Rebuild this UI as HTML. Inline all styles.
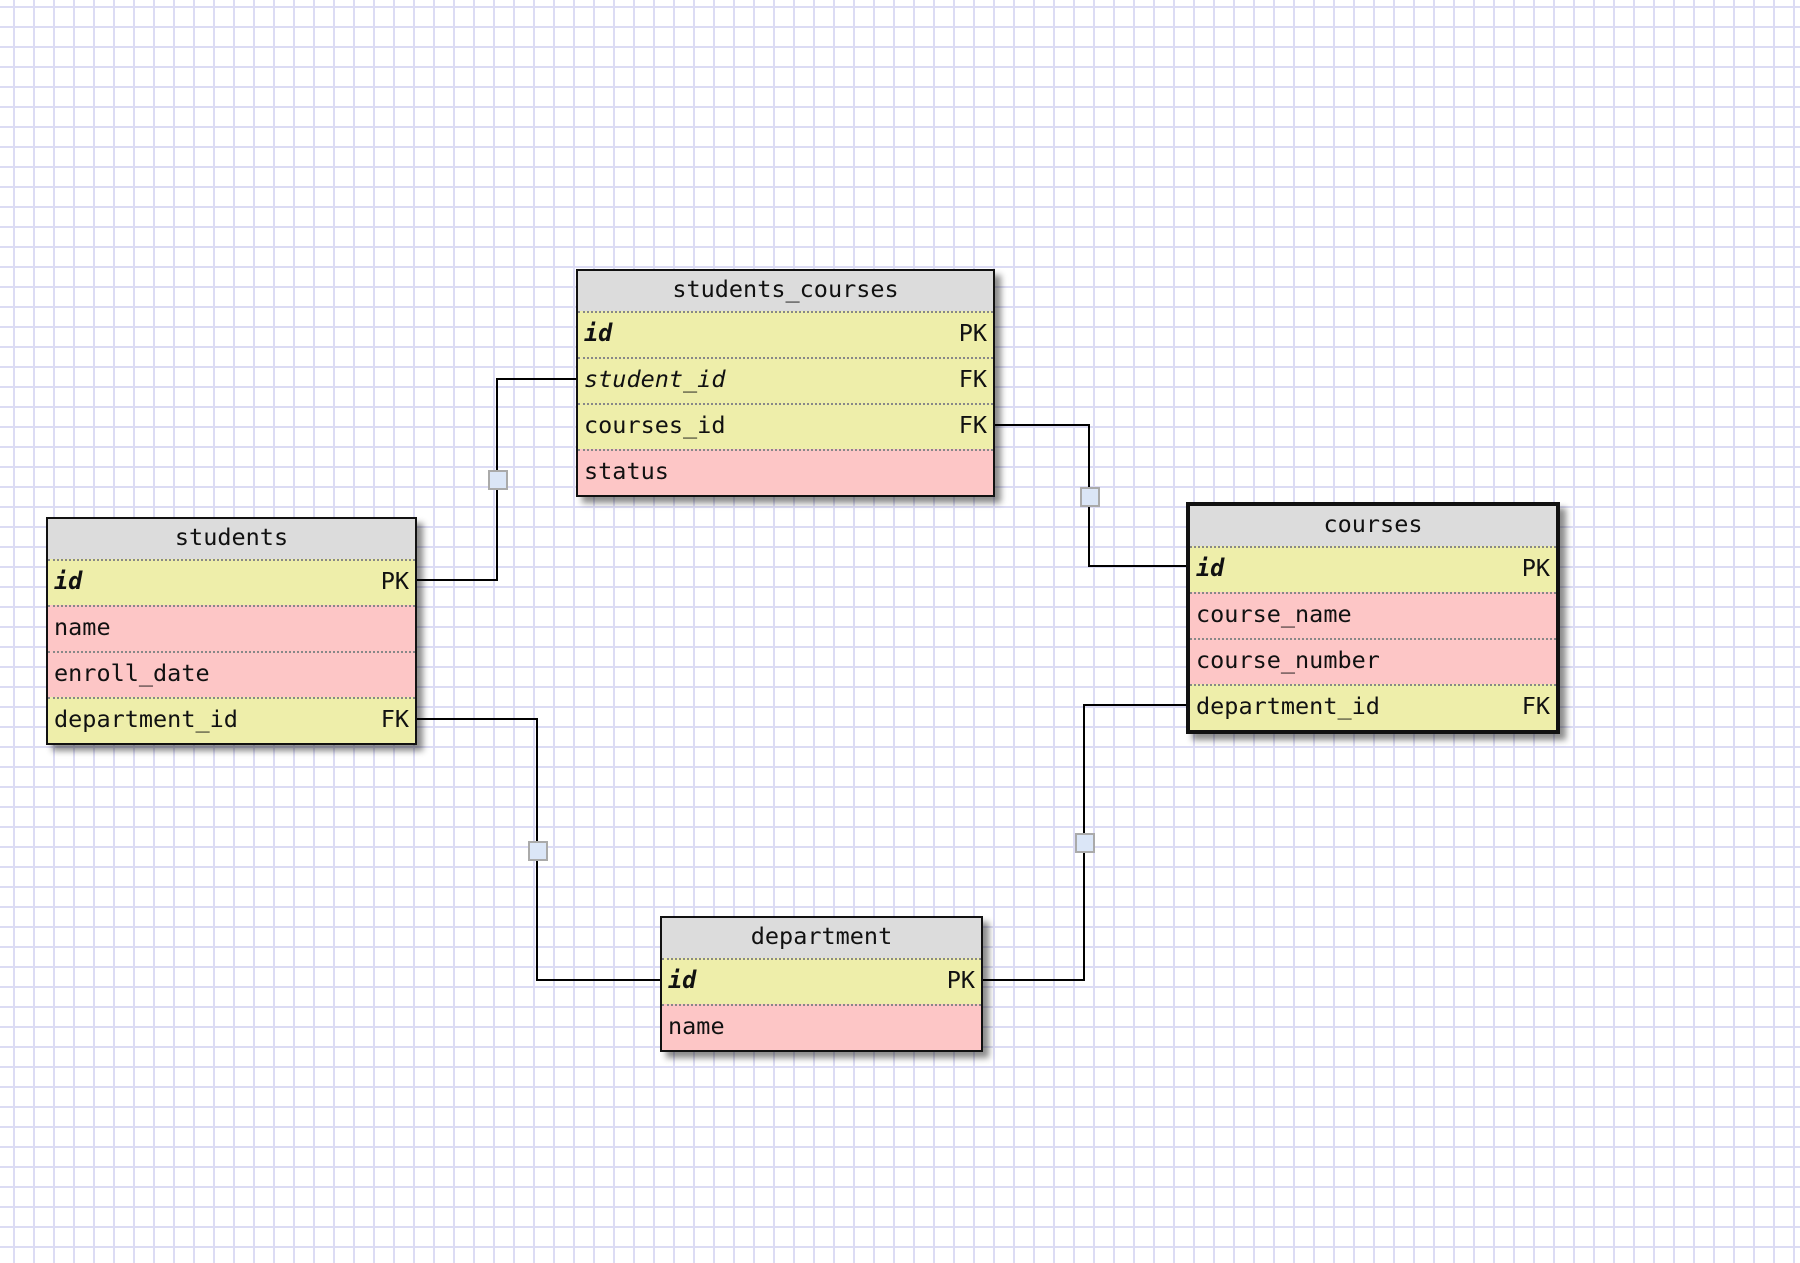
<!DOCTYPE html>
<html><head><meta charset="utf-8"><style>
html,body{margin:0;padding:0;}
body{width:1800px;height:1263px;position:relative;overflow:hidden;background-color:#fff;
background-image:linear-gradient(to right,#dcdcf4 2px,transparent 2px),linear-gradient(to bottom,#dcdcf4 2px,transparent 2px);
background-size:20px 20px;background-position:13px 6px;font-family:"DejaVu Sans Mono","Liberation Mono",monospace;}
.t{position:absolute;padding:2px;box-shadow:6px 6px 6px rgba(0,0,0,0.45);box-sizing:border-box;background:#eeeeaa;}
.t::after{content:"";position:absolute;left:0;top:0;right:0;bottom:0;border:2px solid #111;z-index:5;pointer-events:none;}
.t.thick{padding:4px}.t.thick::after{border-width:4px}
.h{height:40px;background:#dcdcdc;text-align:center;line-height:36px;font-size:23.5px;color:#111;}
.r{height:46px;line-height:40px;font-size:23.5px;padding:0 6px;border-top:2px dotted #888;box-sizing:border-box;color:#111;position:relative;}
.y{background:#eeeeaa}.p{background:#fdc6c6}
.k{position:absolute;right:6px;top:0}
.b{font-weight:bold;font-style:italic}.i{font-style:italic}
svg{position:absolute;left:0;top:0}
</style></head><body>
<svg width="1800" height="1263">
<g fill="none" stroke="#000" stroke-width="2">
<polyline points="416,580 497,580 497,379 576,379"/>
<polyline points="994,425 1089,425 1089,566 1187,566"/>
<polyline points="416,719 537,719 537,980 660,980"/>
<polyline points="1187,705 1084,705 1084,980 982,980"/>
</g>
<g fill="#dbe6f7" stroke="#aaa" stroke-width="2">
<rect x="489" y="471" width="18" height="18"/>
<rect x="1081" y="488" width="18" height="18"/>
<rect x="529" y="842" width="18" height="18"/>
<rect x="1076" y="834" width="18" height="18"/>
</g>
</svg>
<div class="t" style="left:576px;top:269px;width:419px">
<div class="h">students_courses</div>
<div class="r y"><span class="b">id</span><span class="k">PK</span></div>
<div class="r y"><span class="i">student_id</span><span class="k">FK</span></div>
<div class="r y">courses_id<span class="k">FK</span></div>
<div class="r p">status</div>
</div>
<div class="t" style="left:46px;top:517px;width:371px">
<div class="h">students</div>
<div class="r y"><span class="b">id</span><span class="k">PK</span></div>
<div class="r p">name</div>
<div class="r p">enroll_date</div>
<div class="r y">department_id<span class="k">FK</span></div>
</div>
<div class="t thick" style="left:1186px;top:502px;width:374px">
<div class="h">courses</div>
<div class="r y"><span class="b">id</span><span class="k">PK</span></div>
<div class="r p">course_name</div>
<div class="r p">course_number</div>
<div class="r y">department_id<span class="k">FK</span></div>
</div>
<div class="t" style="left:660px;top:916px;width:323px">
<div class="h">department</div>
<div class="r y"><span class="b">id</span><span class="k">PK</span></div>
<div class="r p">name</div>
</div>
</body></html>
